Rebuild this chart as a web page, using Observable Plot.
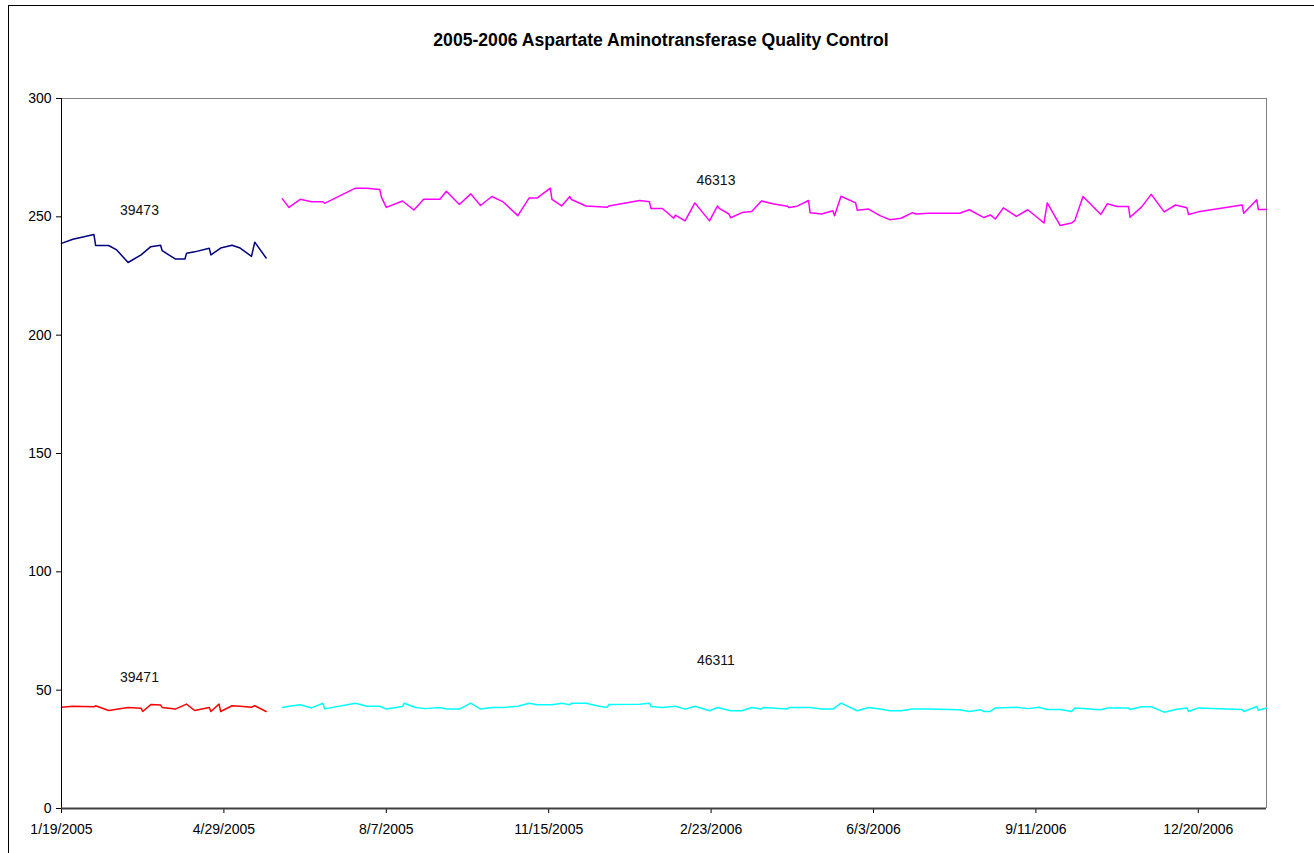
<!DOCTYPE html>
<html>
<head>
<meta charset="utf-8">
<script src="https://cdn.jsdelivr.net/npm/d3@7"></script>
<script src="https://cdn.jsdelivr.net/npm/@observablehq/plot@0.6"></script>
<style>
  html, body { margin: 0; padding: 0; background: #fff; overflow: hidden; width: 1314px; height: 853px; }
  #frame { position: absolute; left: 8px; top: 5px; width: 1330px; height: 870px; border: 1px solid #000; box-sizing: border-box; }
  #title { position: absolute; left: 0; top: 30px; width: 1322px; text-align: center; font: bold 17.6px "Liberation Sans", Arial, sans-serif; line-height: 20px; color: #000; }
  #chart { position: absolute; left: 0; top: 60px; }
</style>
</head>
<body>
<div id="frame"></div>
<div id="title">2005-2006 Aspartate Aminotransferase Quality Control</div>
<div id="chart"></div>
<script>
// ---- Data ----
const tickLabels = ["1/19/2005","4/29/2005","8/7/2005","11/15/2005","2/23/2006","6/3/2006","9/11/2006","12/20/2006"];
const yTicks = [0, 50, 100, 150, 200, 250, 300];
const xDomain = ["2005-01-19", "2007-01-31"];

const dates39473 = ["2005-01-19","2005-01-26","2005-02-08","2005-02-09","2005-02-17","2005-02-22","2005-03-01","2005-03-09","2005-03-15","2005-03-21","2005-03-22","2005-03-30","2005-04-05","2005-04-06","2005-04-11","2005-04-20","2005-04-21","2005-04-27","2005-05-04","2005-05-09","2005-05-16","2005-05-18","2005-05-25"];
const values39473 = [238.8,240.5,242.5,237.9,237.9,236,230.7,233.9,237.4,238,235.7,232.2,232.2,234.6,235.2,236.7,233.9,236.8,238,236.8,233.3,239.3,232.6];

const dates39471 = ["2005-01-19","2005-01-26","2005-02-08","2005-02-09","2005-02-17","2005-03-01","2005-03-09","2005-03-10","2005-03-15","2005-03-21","2005-03-22","2005-03-30","2005-04-06","2005-04-11","2005-04-20","2005-04-21","2005-04-26","2005-04-27","2005-05-04","2005-05-09","2005-05-16","2005-05-18","2005-05-25"];
const values39471 = [42.8,43.2,43,43.4,41.4,42.7,42.4,41,43.9,43.7,42.7,42,44.1,41.4,42.7,41,44.1,41,43.4,43.2,42.8,43.4,41];

const dates46313 = ["2005-06-04","2005-06-08","2005-06-15","2005-06-22","2005-06-29","2005-06-30","2005-07-19","2005-07-26","2005-08-03","2005-08-04","2005-08-07","2005-08-17","2005-08-24","2005-08-30","2005-09-09","2005-09-13","2005-09-21","2005-09-28","2005-10-04","2005-10-11","2005-10-18","2005-10-27","2005-11-03","2005-11-08","2005-11-16","2005-11-17","2005-11-23","2005-11-28","2005-11-29","2005-12-08","2005-12-16","2005-12-21","2005-12-22","2006-01-10","2006-01-16","2006-01-17","2006-01-24","2006-01-31","2006-02-01","2006-02-07","2006-02-13","2006-02-22","2006-02-27","2006-02-28","2006-03-06","2006-03-07","2006-03-14","2006-03-20","2006-03-26","2006-04-02","2006-04-11","2006-04-12","2006-04-17","2006-04-24","2006-04-25","2006-05-02","2006-05-09","2006-05-10","2006-05-14","2006-05-23","2006-05-24","2006-05-31","2006-06-07","2006-06-13","2006-06-20","2006-06-27","2006-06-29","2006-07-07","2006-07-26","2006-08-01","2006-08-10","2006-08-14","2006-08-17","2006-08-22","2006-08-30","2006-09-06","2006-09-16","2006-09-18","2006-09-26","2006-10-03","2006-10-05","2006-10-10","2006-10-21","2006-10-25","2006-10-31","2006-11-07","2006-11-08","2006-11-15","2006-11-21","2006-11-29","2006-12-06","2006-12-13","2006-12-14","2006-12-20","2007-01-16","2007-01-17","2007-01-25","2007-01-26","2007-01-31"];
const values46313 = [257.6,254,257.4,256.4,256.4,255.7,262.1,262.1,261.5,258.3,254,256.7,252.9,257.4,257.4,260.8,255.2,259.7,254.8,258.6,256.3,250.5,258,258,262.1,257.4,254.6,258.6,257.3,254.6,254.3,254,254.6,256.9,256.4,253.5,253.5,249.4,250.7,248.3,255.9,248.3,254.6,253.6,251.2,249.6,251.8,252.3,256.7,255.5,254.5,253.9,254.5,256.9,251.7,251.2,252.6,250.5,258.7,255.9,252.8,253.3,250.5,248.8,249.4,251.8,251.2,251.5,251.5,253,249.7,250.8,249.1,253.8,250.2,253,247.4,255.9,246.3,247.4,248.5,258.6,251,255.5,254.4,254.4,249.8,254.1,259.5,252.1,255,253.8,251,252.1,255,251.5,257.2,253.1,253.1];

const dates46311 = ["2005-06-04","2005-06-08","2005-06-15","2005-06-22","2005-06-29","2005-06-30","2005-07-19","2005-07-26","2005-08-03","2005-08-07","2005-08-17","2005-08-18","2005-08-25","2005-08-31","2005-09-09","2005-09-13","2005-09-21","2005-09-28","2005-10-04","2005-10-11","2005-10-18","2005-10-27","2005-11-03","2005-11-08","2005-11-17","2005-11-23","2005-11-28","2005-11-29","2005-12-08","2005-12-16","2005-12-21","2005-12-22","2006-01-10","2006-01-16","2006-01-17","2006-01-24","2006-02-01","2006-02-07","2006-02-13","2006-02-22","2006-02-27","2006-03-07","2006-03-14","2006-03-20","2006-03-26","2006-03-27","2006-04-11","2006-04-12","2006-04-25","2006-05-02","2006-05-09","2006-05-14","2006-05-24","2006-05-31","2006-06-07","2006-06-13","2006-06-20","2006-06-27","2006-07-07","2006-07-26","2006-08-01","2006-08-08","2006-08-10","2006-08-14","2006-08-17","2006-08-30","2006-09-06","2006-09-13","2006-09-18","2006-09-26","2006-10-03","2006-10-05","2006-10-21","2006-10-25","2006-11-07","2006-11-08","2006-11-15","2006-11-21","2006-11-29","2006-12-06","2006-12-13","2006-12-14","2006-12-20","2007-01-16","2007-01-17","2007-01-25","2007-01-26","2007-01-31"];
const values46311 = [42.7,43.2,43.8,42.5,44.5,42.1,44.5,43.2,43.2,42,43.1,44.5,42.7,42.2,42.7,42,42,44.5,42,42.7,42.7,43.2,44.5,43.8,43.8,44.5,43.8,44.5,44.5,43.2,42.7,43.9,44.1,44.5,43.1,42.7,43.2,42,43.2,41.3,42.7,41.3,41.3,42.7,42,42.7,42,42.7,42.7,42,42,44.5,41.3,42.7,42,41.3,41.3,42,42,41.7,41,41.7,41,41,42.5,42.8,42.2,42.8,41.8,41.8,41,42.5,41.7,42.5,42.5,41.8,43,43,40.7,41.8,42.5,41,42.5,41.8,41,43.1,41.5,42.5];

const seriesNames = ["39473", "39471", "46313", "46311"];
const seriesColors = ["#000080", "#FF0000", "#FF00FF", "#00FFFF"];
// label anchors (date, value) where Excel placed each series name
const labelDates = ["2005-03-08", "2005-03-08", "2006-02-26", "2006-02-26"];
const labelValues = [252.6, 55.3, 265.5, 62.5];

// ---- Build tables ----
const parseTick = d3.utcParse("%m/%d/%Y");
const tickDates = tickLabels.map(parseTick);
const fmt = d => `${d.getUTCMonth() + 1}/${d.getUTCDate()}/${d.getUTCFullYear()}`;

function rows(name, dates, values) {
  return dates.map((d, i) => ({series: name, date: new Date(d), value: values[i]}));
}
const series = [
  rows("39473", dates39473, values39473),
  rows("39471", dates39471, values39471),
  rows("46313", dates46313, values46313),
  rows("46311", dates46311, values46311)
];
const labels = seriesNames.map((n, i) => ({name: n, date: new Date(labelDates[i]), value: labelValues[i]}));
const x0 = new Date(xDomain[0]), x1 = new Date(xDomain[1]);

const chart = Plot.plot({
  width: 1314,
  height: 793,
  marginLeft: 61,
  marginRight: 48,
  marginTop: 38,
  marginBottom: 45,
  style: {fontFamily: "'Liberation Sans', Arial, sans-serif", fontSize: "14px", color: "#000", background: "transparent", overflow: "visible"},
  x: {type: "utc", domain: [x0, x1], ticks: tickDates, tickFormat: fmt, tickSize: 5, tickPadding: 11, label: null},
  y: {domain: [0, 300], ticks: yTicks, tickFormat: d => String(d), tickSize: 5, tickPadding: 5, label: null},
  marks: [
    Plot.ruleY([300], {stroke: "#808080", strokeWidth: 1}),
    Plot.ruleX([x1], {stroke: "#808080", strokeWidth: 1}),
    ...series.map((data, i) => Plot.line(data, {x: "date", y: "value", stroke: seriesColors[i], strokeWidth: 1.5})),
    Plot.ruleX([x0], {stroke: "#000", strokeWidth: 1}),
    Plot.ruleY([0], {stroke: "#404040", strokeWidth: 2}),
    Plot.text(labels, {x: "date", y: "value", text: "name", fill: "#111", fontSize: 14})
  ]
});
document.getElementById("chart").appendChild(chart);
</script>
</body>
</html>
